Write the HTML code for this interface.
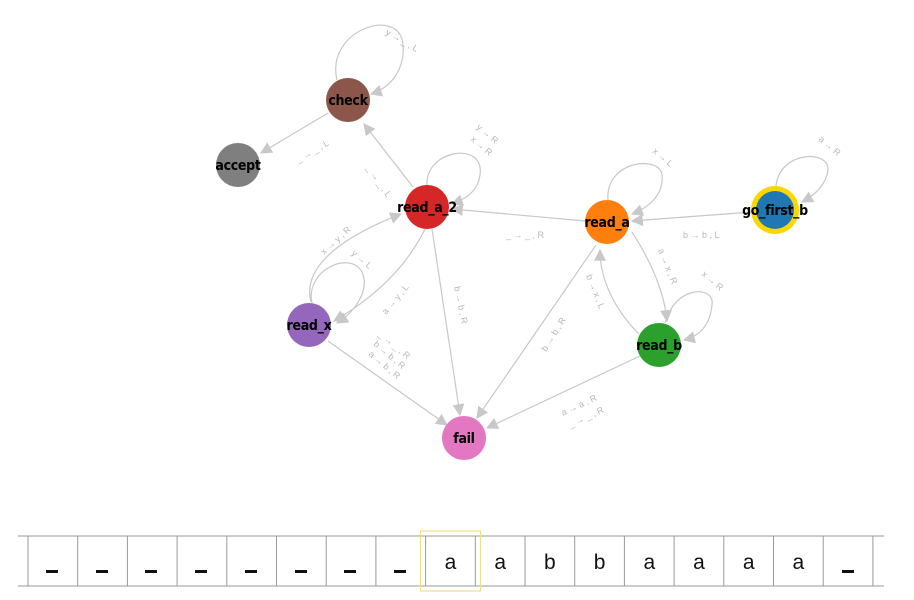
<!DOCTYPE html>
<html><head><meta charset="utf-8"><style>
html,body{margin:0;padding:0;background:#fff;width:914px;height:600px;overflow:hidden}
svg{display:block}
.e{fill:none;stroke:#c8c8c8;stroke-width:1.2}
.l{font-family:"Liberation Sans",sans-serif;font-size:9px;fill:#b8b8b8}
.n{font-family:"DejaVu Sans Condensed","Liberation Sans",sans-serif;font-size:14px;font-weight:bold;fill:#000;text-anchor:middle;letter-spacing:-0.3px}
.t{font-family:"Liberation Sans",sans-serif;font-size:21px;fill:#111;text-anchor:middle}
</style></head><body>
<svg width="914" height="600" viewBox="0 0 914 600">
<defs><marker id="a" viewBox="0 0 10 10" refX="9" refY="5" markerWidth="12" markerHeight="12" markerUnits="userSpaceOnUse" orient="auto"><path d="M0,0L10,5L0,10z" fill="#c8c8c8"/></marker></defs>
<path class="e" d="M337,80 C325,30 400,5 403,45 C405,70 390,88 371,94" marker-end="url(#a)"/>
<path class="e" d="M328,113 L261,153" marker-end="url(#a)"/>
<path class="e" d="M413,187 L364,124" marker-end="url(#a)"/>
<path class="e" d="M427,185 C425,150 485,140 480,175 C478,190 468,198 452,204" marker-end="url(#a)"/>
<path class="e" d="M585,221 L452,209" marker-end="url(#a)"/>
<path class="e" d="M752,212 L632,221" marker-end="url(#a)"/>
<path class="e" d="M776,186 C780,150 830,150 828,170 C826,185 815,195 802,202" marker-end="url(#a)"/>
<path class="e" d="M608,200 C605,160 660,155 662,175 C664,195 648,208 632,214" marker-end="url(#a)"/>
<path class="e" d="M632,232 C650,260 664,290 667,321" marker-end="url(#a)"/>
<path class="e" d="M639,334 C615,310 600,280 600,250" marker-end="url(#a)"/>
<path class="e" d="M665,323 C675,285 715,285 712,305 C710,325 700,336 684,340" marker-end="url(#a)"/>
<path class="e" d="M640,356 L487,428" marker-end="url(#a)"/>
<path class="e" d="M596,245 L477,418" marker-end="url(#a)"/>
<path class="e" d="M432,229 L460,415" marker-end="url(#a)"/>
<path class="e" d="M425,229 C405,270 370,300 334,321" marker-end="url(#a)"/>
<path class="e" d="M311,302 C300,260 360,230 401,214" marker-end="url(#a)"/>
<path class="e" d="M312,303 C305,270 350,250 362,272 C370,290 355,312 337,323" marker-end="url(#a)"/>
<path class="e" d="M328,341 L447,425" marker-end="url(#a)"/>
<text class="l" transform="translate(385,34) rotate(30)">y → _ , L</text>
<text class="l" transform="translate(298,163) rotate(-30)">_ → _ , L</text>
<text class="l" transform="translate(366,168) rotate(55)">_ → _ , L</text>
<text class="l" transform="translate(476,128) rotate(40)">y → R</text>
<text class="l" transform="translate(470,140) rotate(40)">x → R</text>
<text class="l" transform="translate(506,238)">_ → _ , R</text>
<text class="l" transform="translate(683,238)">b → b , L</text>
<text class="l" transform="translate(818,140) rotate(40)">a → R</text>
<text class="l" transform="translate(652,152) rotate(40)">x → L</text>
<text class="l" transform="translate(658,250) rotate(68)">a → x , R</text>
<text class="l" transform="translate(701,275) rotate(40)">x → R</text>
<text class="l" transform="translate(586,276) rotate(68)">b → x , L</text>
<text class="l" transform="translate(546,352) rotate(-58)">b → b , R</text>
<text class="l" transform="translate(563,416) rotate(-25)">a → a , R</text>
<text class="l" transform="translate(570,428) rotate(-25)">_ → _ , R</text>
<text class="l" transform="translate(454,287) rotate(78)">b → b , R</text>
<text class="l" transform="translate(386,315) rotate(-50)">a → y , L</text>
<text class="l" transform="translate(324,255) rotate(-42)">x → y , R</text>
<text class="l" transform="translate(351,254) rotate(40)">y → L</text>
<text class="l" transform="translate(378,335) rotate(40)">_ → _ , R</text>
<text class="l" transform="translate(373,345) rotate(40)">b → b , R</text>
<text class="l" transform="translate(368,355) rotate(40)">a → b , R</text>
<circle cx="348" cy="100" r="22" fill="#8c564b"/><text class="n" x="348" y="105">check</text>
<circle cx="238" cy="165" r="22" fill="#7f7f7f"/><text class="n" x="238" y="170">accept</text>
<circle cx="427" cy="207" r="22" fill="#d62728"/><text class="n" x="427" y="212">read_a_2</text>
<circle cx="607" cy="222" r="22" fill="#ff7f0e"/><text class="n" x="607" y="227">read_a</text>
<circle cx="775" cy="210" r="24" fill="#ffd700"/><circle cx="775" cy="210" r="19" fill="#1f77b4"/><text class="n" x="775" y="215">go_first_b</text>
<circle cx="309" cy="325" r="22" fill="#9467bd"/><text class="n" x="309" y="330">read_x</text>
<circle cx="659" cy="345" r="22" fill="#2ca02c"/><text class="n" x="659" y="350">read_b</text>
<circle cx="464" cy="438" r="22" fill="#e377c2"/><text class="n" x="464" y="443">fail</text>
<line x1="18" y1="536" x2="884" y2="536" stroke="#999" stroke-width="1"/>
<line x1="18" y1="586" x2="884" y2="586" stroke="#999" stroke-width="1"/>
<g stroke="#999" stroke-width="1">
<line x1="28" y1="536" x2="28" y2="586"/><line x1="77.7" y1="536" x2="77.7" y2="586"/><line x1="127.4" y1="536" x2="127.4" y2="586"/><line x1="177.1" y1="536" x2="177.1" y2="586"/><line x1="226.8" y1="536" x2="226.8" y2="586"/><line x1="276.5" y1="536" x2="276.5" y2="586"/><line x1="326.2" y1="536" x2="326.2" y2="586"/><line x1="375.9" y1="536" x2="375.9" y2="586"/><line x1="425.6" y1="536" x2="425.6" y2="586"/><line x1="475.3" y1="536" x2="475.3" y2="586"/><line x1="525" y1="536" x2="525" y2="586"/><line x1="574.7" y1="536" x2="574.7" y2="586"/><line x1="624.4" y1="536" x2="624.4" y2="586"/><line x1="674.1" y1="536" x2="674.1" y2="586"/><line x1="723.8" y1="536" x2="723.8" y2="586"/><line x1="773.5" y1="536" x2="773.5" y2="586"/><line x1="823.2" y1="536" x2="823.2" y2="586"/><line x1="872.9" y1="536" x2="872.9" y2="586"/>
</g>
<rect x="420.5" y="531" width="60" height="60" fill="none" stroke="#f0e08a" stroke-width="1.2"/>
<g fill="#111">
<rect x="46" y="570" width="12" height="3"/><rect x="96" y="570" width="12" height="3"/><rect x="145" y="570" width="12" height="3"/><rect x="195" y="570" width="12" height="3"/><rect x="245" y="570" width="12" height="3"/><rect x="295" y="570" width="12" height="3"/><rect x="344" y="570" width="12" height="3"/><rect x="394" y="570" width="12" height="3"/><rect x="842" y="570" width="12" height="3"/>
</g>
<text class="t" x="450.5" y="569">a</text><text class="t" x="500.2" y="569">a</text><text class="t" x="549.9" y="569">b</text><text class="t" x="599.6" y="569">b</text><text class="t" x="649.3" y="569">a</text><text class="t" x="699" y="569">a</text><text class="t" x="748.7" y="569">a</text><text class="t" x="798.4" y="569">a</text>
</svg>
</body></html>
